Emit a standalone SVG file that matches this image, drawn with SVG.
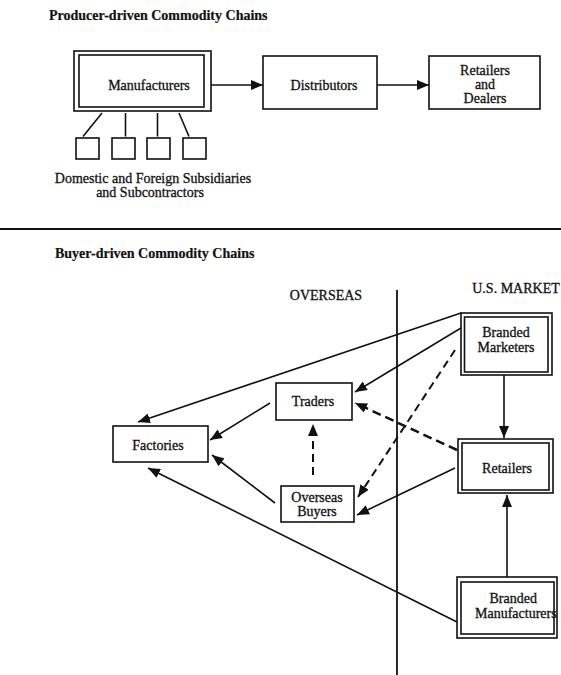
<svg xmlns="http://www.w3.org/2000/svg" width="561" height="675" viewBox="0 0 561 675">
<style>
  text { font-family: "Liberation Serif", "Times New Roman", serif; font-size: 14px; fill: #111; stroke: #111; stroke-width: 0.3; }
  .title { font-weight: bold; stroke-width: 0.2; }
  .c { text-anchor: middle; }
  .box { fill: none; stroke: #111; stroke-width: 1.6; }
  .ln { fill: none; stroke: #111; stroke-width: 1.6; }
  .arr { marker-end: url(#ah); }
  .dash { stroke-dasharray: 8 5; stroke-width: 2; }
  .dash2 { stroke-dasharray: 9 5; stroke-width: 2.5; }
</style>
<defs>
  <marker id="ah" markerUnits="userSpaceOnUse" markerWidth="12" markerHeight="10" refX="12" refY="5" orient="auto">
    <path d="M0,0 L12,5 L0,10 z" fill="#111"/>
  </marker>
</defs>
<rect x="0" y="0" width="561" height="675" fill="#fff"/>

<!-- Producer-driven section -->
<text class="title" x="49" y="20">Producer-driven Commodity Chains</text>

<g id="manufacturers">
  <rect class="box" x="74" y="51" width="137" height="60"/>
  <rect class="box" x="79" y="55" width="125" height="52"/>
  <text class="c" x="149" y="90">Manufacturers</text>
</g>
<g id="distributors">
  <rect class="box" x="263" y="56" width="114" height="53"/>
  <text class="c" x="324" y="90">Distributors</text>
</g>
<g id="retailers-dealers">
  <rect class="box" x="429" y="56" width="111" height="53"/>
  <text class="c" x="485" y="74.5">Retailers</text>
  <text class="c" x="485" y="88.5">and</text>
  <text class="c" x="485" y="103">Dealers</text>
</g>
<g id="subsidiaries">
  <rect class="box" x="76" y="138" width="23" height="21"/>
  <rect class="box" x="112" y="138" width="23" height="21"/>
  <rect class="box" x="147" y="138" width="23" height="21"/>
  <rect class="box" x="183" y="138" width="23" height="21"/>
  <text class="c" x="153" y="182.5">Domestic and Foreign Subsidiaries</text>
  <text class="c" x="150" y="197">and Subcontractors</text>
</g>

<g id="connectors-top">
  <line class="ln arr" x1="211" y1="85" x2="263" y2="85"/>
  <line class="ln arr" x1="377" y1="85" x2="429" y2="85"/>
  <line class="ln" x1="102" y1="113" x2="83" y2="136.5"/>
  <line class="ln" x1="125.5" y1="113" x2="125.5" y2="136.5"/>
  <line class="ln" x1="157.5" y1="113" x2="157.5" y2="136.5"/>
  <line class="ln" x1="179" y1="113" x2="189" y2="136.5"/>
</g>

<line x1="0" y1="229" x2="561" y2="229" stroke="#111" stroke-width="2"/>

<!-- Buyer-driven section -->
<text class="title" x="55" y="258">Buyer-driven Commodity Chains</text>
<text class="c" x="326" y="299.5">OVERSEAS</text>
<text class="c" x="516" y="292.5">U.S. MARKET</text>
<line x1="397" y1="290" x2="397" y2="675" stroke="#111" stroke-width="1.8"/>

<g id="branded-marketers">
  <rect class="box" x="461" y="313" width="91" height="62"/>
  <rect class="box" x="464.5" y="317" width="83.5" height="55"/>
  <text class="c" x="506" y="337">Branded</text>
  <text class="c" x="506" y="352">Marketers</text>
</g>
<g id="traders">
  <rect class="box" x="276" y="383" width="76" height="37"/>
  <text class="c" x="313" y="406">Traders</text>
</g>
<g id="factories">
  <rect class="box" x="113" y="426" width="95" height="36"/>
  <text class="c" x="158" y="450">Factories</text>
</g>
<g id="retailers">
  <rect class="box" x="458" y="439" width="95" height="54"/>
  <rect class="box" x="462" y="443" width="87" height="47"/>
  <text class="c" x="507" y="472.5">Retailers</text>
</g>
<g id="overseas-buyers">
  <rect class="box" x="281" y="486" width="73" height="36"/>
  <text class="c" x="317" y="502">Overseas</text>
  <text class="c" x="317" y="516">Buyers</text>
</g>
<g id="branded-manufacturers">
  <rect class="box" x="457" y="577" width="100" height="61"/>
  <rect class="box" x="461" y="582" width="93" height="52"/>
  <text x="489.5" y="602.5">Branded</text>
  <text x="475" y="617.5">Manufacturers</text>
</g>

<g id="connectors">
  <line class="ln arr" x1="461" y1="313" x2="138" y2="422"/>
  <line class="ln arr" x1="461" y1="328" x2="355" y2="392"/>
  <line class="ln dash arr" x1="455" y1="350" x2="358" y2="497"/>
  <line class="ln arr" x1="504" y1="375" x2="504" y2="438"/>
  <line class="ln dash2 arr" x1="457" y1="450" x2="355" y2="403"/>
  <line class="ln arr" x1="455" y1="468" x2="357" y2="515"/>
  <line class="ln arr" x1="507" y1="577" x2="507" y2="495"/>
  <line class="ln arr" x1="457" y1="622" x2="148" y2="468"/>
  <line class="ln arr" x1="270" y1="403" x2="210" y2="440"/>
  <line class="ln arr" x1="275" y1="503" x2="212" y2="455"/>
  <line class="ln dash arr" x1="313" y1="475" x2="313" y2="424"/>
</g>
</svg>
